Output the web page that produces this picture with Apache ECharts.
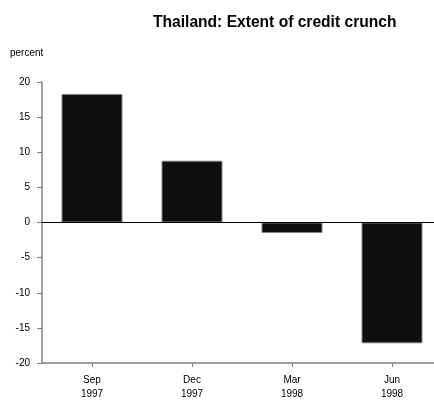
<!DOCTYPE html>
<html><head><meta charset="utf-8">
<script src="https://cdn.jsdelivr.net/npm/echarts@6/dist/echarts.min.js"></script>
<style>html,body{margin:0;padding:0;background:#fff;overflow:hidden}#c{width:442px;height:401px}</style>
</head><body><div id="c"></div>
<script>
var categories = ['Sep\n1997', 'Dec\n1997', 'Mar\n1998', 'Jun\n1998'];
var values = [18.3, 8.8, -1.5, -17.2];
var yTicks = [-20, -15, -10, -5, 0, 5, 10, 15, 20];

var chart = echarts.init(document.getElementById('c'), null, {renderer: 'canvas'});
chart.setOption({
  animation: false,
  backgroundColor: '#fff',
  title: {
    text: 'Thailand: Extent of credit crunch',
    left: 148, top: 10,
    textStyle: {fontFamily: 'Liberation Sans, Arial', fontSize: 15.6, fontWeight: 'bold', color: '#000'}
  },
  graphic: [{
    type: 'text', left: 10, top: 48,
    style: {text: 'percent', fontFamily: 'Liberation Sans, Arial', fontSize: 10, fill: '#000'}
  }],
  grid: {left: 42, top: 82, right: 0, height: 281, containLabel: false},
  xAxis: {
    type: 'category',
    data: categories,
    position: 'bottom',
    axisLine: {onZero: false, lineStyle: {color: '#808080', width: 1.5}},
    axisTick: {show: true, alignWithLabel: true, length: 4, lineStyle: {color: '#808080'}},
    axisLabel: {
      margin: 10, color: '#000', fontFamily: 'Liberation Sans, Arial', fontSize: 10, lineHeight: 14
    },
    splitLine: {show: false}
  },
  yAxis: {
    type: 'value',
    min: yTicks[0], max: yTicks[yTicks.length - 1], interval: 5,
    axisLine: {show: true, lineStyle: {color: '#808080', width: 1.5}},
    axisTick: {show: true, length: 5, lineStyle: {color: '#808080'}},
    axisLabel: {margin: 12, color: '#000', fontFamily: 'Liberation Sans, Arial', fontSize: 10},
    splitLine: {show: false}
  },
  series: [{
    type: 'bar',
    data: values,
    barWidth: 61,
    itemStyle: {color: '#0f0f0f', borderColor: '#808080', borderWidth: 1},
    markLine: {
      silent: true, symbol: 'none', label: {show: false},
      lineStyle: {color: '#000', width: 1, type: 'solid'},
      data: [{yAxis: 0}]
    }
  }]
});
</script></body></html>
